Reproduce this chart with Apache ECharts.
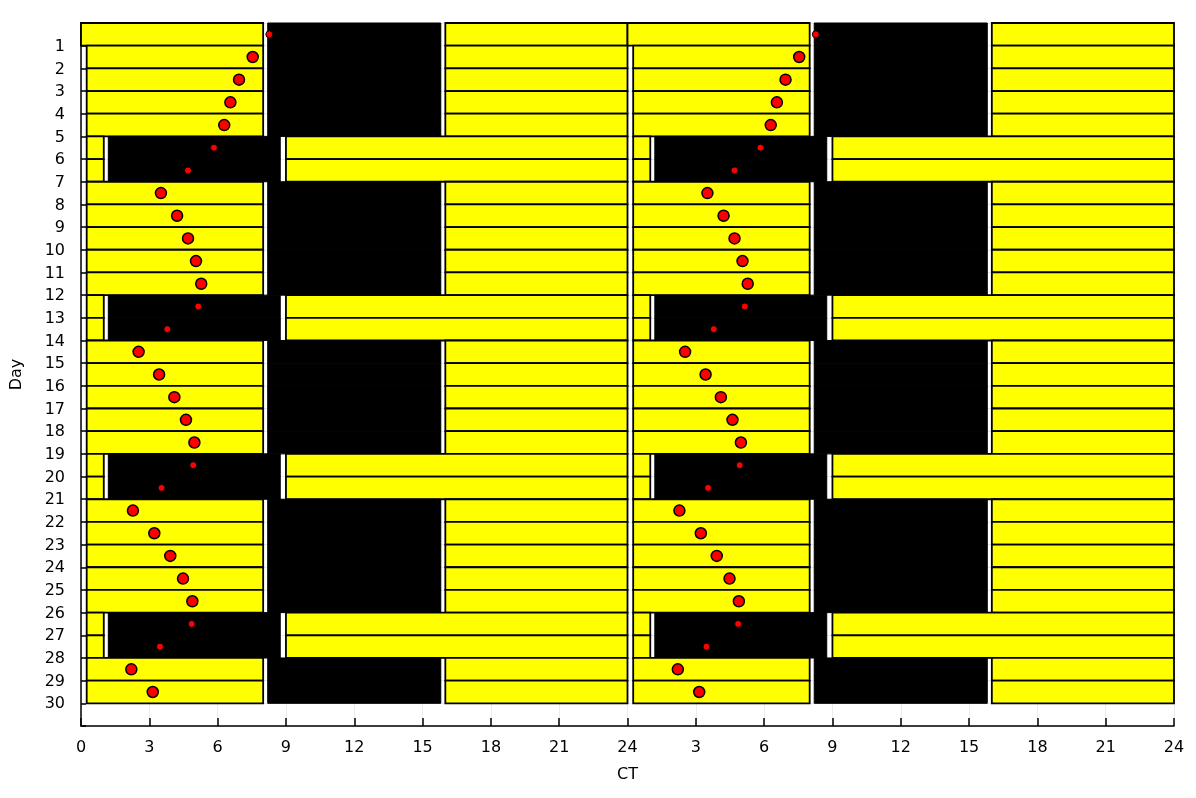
<!DOCTYPE html>
<html>
<head>
<meta charset="utf-8">
<script src="https://cdn.jsdelivr.net/npm/echarts@6/dist/echarts.min.js"></script>
<style>
html,body{margin:0;padding:0;background:#fff;}
#chart{width:1196px;height:798px;}
</style>
</head>
<body>
<div id="chart"></div>
<script>
// Day rows (bands) 1..30
const days = [1,2,3,4,5,6,7,8,9,10,11,12,13,14,15,16,17,18,19,20,21,22,23,24,25,26,27,28,29,30];
// schedule type for each band
const bandTypes = ['A','B','B','B','B','C','C','B','B','B','B','B','C','C','B','B','B','B','B','C','C','B','B','B','B','B','C','C','B','B'];
// light / dark segments (hours, CT) for each schedule type
const lightA = [[0, 8], [16, 24]];
const darkA  = [[8.2, 15.8]];
const lightB = [[0.25, 8], [16, 24]];
const darkB  = [[8.2, 15.8]];
const lightC = [[0.25, 1], [9, 24]];
const darkC  = [[1.2, 8.75]];
// activity onset (CT hours) per band
const onset = [8.27,7.54,6.94,6.56,6.29,5.84,4.70,3.51,4.22,4.70,5.05,5.28,5.15,3.79,2.53,3.43,4.10,4.61,4.98,4.93,3.54,2.28,3.22,3.92,4.48,4.89,4.86,3.47,2.21,3.15];
// x tick values
const xTicks = [0,3,6,9,12,15,18,21,24,27,30,33,36,39,42,45,48];

const sched = {A:{light:lightA,dark:darkA},B:{light:lightB,dark:darkB},C:{light:lightC,dark:darkC}};

const segData = [];
days.forEach((d, i) => {
  const s = sched[bandTypes[i]];
  for (let k = 0; k < 2; k++) {
    s.dark.forEach(p => segData.push([p[0] + 24*k, p[1] + 24*k, d, 1]));
    s.light.forEach(p => segData.push([p[0] + 24*k, p[1] + 24*k, d, 0]));
  }
});

function inDark(i, h) {
  return sched[bandTypes[i]].dark.some(p => h >= p[0] && h <= p[1]);
}
const bigDots = [], smallDots = [];
days.forEach((d, i) => {
  for (let k = 0; k < 2; k++) {
    const pt = [onset[i] + 24*k, d - 0.5];
    (inDark(i, onset[i]) ? smallDots : bigDots).push(pt);
  }
});

const FONT = 'DejaVu Sans';
const chart = echarts.init(document.getElementById('chart'), null, {renderer:'canvas'});
chart.setOption({
  animation: false,
  backgroundColor: '#fff',
  grid: {left: 81, right: 22, top: 23, bottom: 72, containLabel: false, outerBoundsMode: 'none'},
  xAxis: {
    type: 'value', min: 0, max: 48, interval: 3,
    name: 'CT', nameLocation: 'middle', nameGap: 41,
    nameTextStyle: {fontFamily: FONT, fontSize: 16, color: '#000'},
    axisLine: {show: true, onZero: false, lineStyle: {color: '#000', width: 1.5}},
    axisTick: {show: true, inside: true, length: 8, lineStyle: {color: '#000', width: 1.5}},
    axisLabel: {fontFamily: FONT, fontSize: 16, color: '#000', margin: 14,
      formatter: v => xTicks.indexOf(v) < 0 ? '' : (v === 0 ? '0' : (v % 24 === 0 ? '24' : String(v % 24)))},
    splitLine: {show: true, lineStyle: {color: '#ebebeb', width: 1}}
  },
  yAxis: {
    type: 'value', min: 0, max: 31, interval: 1, inverse: true,
    name: 'Day', nameLocation: 'middle', nameGap: 56, nameRotate: 90,
    nameTextStyle: {fontFamily: FONT, fontSize: 16, color: '#000'},
    axisLine: {show: true, onZero: false, lineStyle: {color: '#000', width: 1.5}},
    axisTick: {show: true, inside: true, length: 5, lineStyle: {color: '#000', width: 1.5}},
    axisLabel: {fontFamily: FONT, fontSize: 16, color: '#000', margin: 16, verticalAlign: 'top', padding: [-7, 0, 0, 0],
      formatter: v => days.indexOf(v) < 0 ? '' : String(v)},
    splitLine: {show: true, lineStyle: {color: '#ebebeb', width: 1}}
  },
  series: [
    {
      type: 'custom',
      data: segData,
      encode: {x: [0, 1], y: 2},
      z: 2,
      renderItem: function (params, api) {
        const p0 = api.coord([api.value(0), api.value(2) - 1]);
        const p1 = api.coord([api.value(1), api.value(2)]);
        const dark = api.value(3) === 1;
        return {
          type: 'rect',
          shape: {x: p0[0], y: p0[1], width: p1[0] - p0[0], height: p1[1] - p0[1]},
          style: dark ? {fill: '#000', stroke: '#000', lineWidth: 1} : {fill: '#ffff00', stroke: '#000', lineWidth: 1.8}
        };
      }
    },
    {
      type: 'scatter', data: bigDots, symbol: 'circle', symbolSize: 11, z: 5,
      itemStyle: {color: '#ff0000', borderColor: '#000', borderWidth: 1.5, opacity: 1}
    },
    {
      type: 'scatter', data: smallDots, symbol: 'circle', symbolSize: 7, z: 5,
      itemStyle: {color: '#ff0000', borderColor: '#000', borderWidth: 1, opacity: 1}
    }
  ]
});
</script>
</body>
</html>
